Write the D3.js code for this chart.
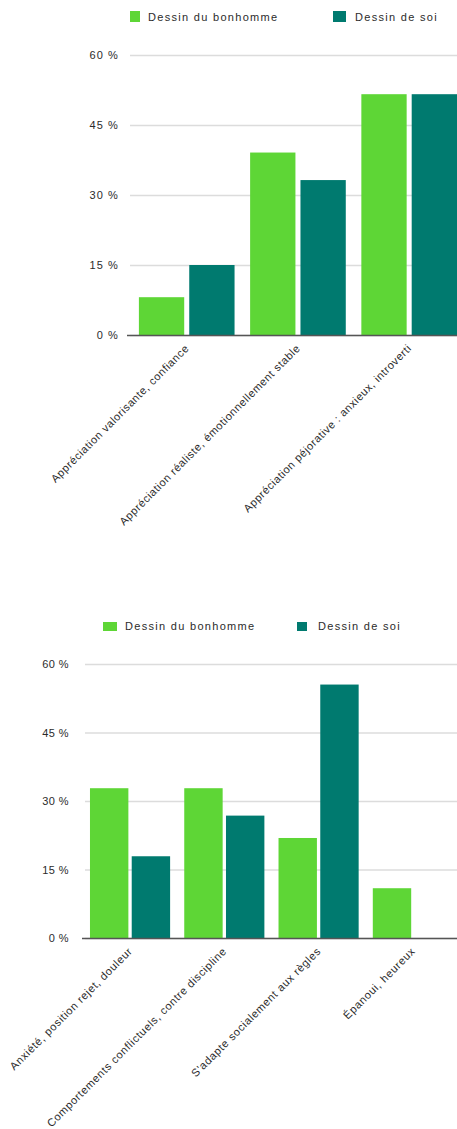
<!DOCTYPE html>
<html>
<head>
<meta charset="utf-8">
<script src="https://cdn.jsdelivr.net/npm/d3@7"></script>
<style>
  body { margin: 0; background: #fff; }
  svg text { font-family: "Liberation Sans", Arial, sans-serif; fill: #2b2b2b; }
</style>
</head>
<body>
<svg id="chart" width="457" height="1129"></svg>
<script>
var seriesNames = ["Dessin du bonhomme", "Dessin de soi"];
var seriesColors = ["#5ed636", "#007a6f"];
var yTicks = [0, 15, 30, 45, 60];

var categories1 = [
  "Appréciation valorisante, confiance",
  "Appréciation réaliste, émotionnellement stable",
  "Appréciation péjorative : anxieux, introverti"
];
var bonhomme1 = [8.1, 39.1, 51.6];
var soi1 = [15.0, 33.2, 51.6];

var categories2 = [
  "Anxiété, position rejet, douleur",
  "Comportements conflictuels, contre discipline",
  "S'adapte socialement aux règles",
  "Épanoui, heureux"
];
var bonhomme2 = [32.8, 32.8, 21.9, 10.9];
var soi2 = [17.9, 26.8, 55.5, 0];

var svg = d3.select("#chart");

function drawChart(opt) {
  var data = opt.categories.map(function(c, i) {
    return { cat: c, values: [opt.s1[i], opt.s2[i]] };
  });

  var x = d3.scaleBand().domain(opt.categories)
    .range([opt.left, opt.right])
    .paddingInner(opt.padIn).paddingOuter(opt.padOut).align(opt.align);
  var xs = d3.scaleBand().domain([0, 1]).range([0, x.bandwidth()]).paddingInner(opt.subPad);
  var y = d3.scaleLinear().domain([0, 60]).range([opt.bottom, opt.top]);

  var g = svg.append("g");

  // grid + y labels
  var yAxis = g.append("g")
    .attr("transform", "translate(" + opt.left + ",0)")
    .call(d3.axisLeft(y).tickValues(yTicks)
      .tickSizeInner(-(opt.right - opt.left)).tickSizeOuter(0)
      .tickPadding(opt.labelGap)
      .tickFormat(function(d) { return d + " %"; }));
  yAxis.select(".domain").remove();
  yAxis.selectAll("line").attr("stroke", "#dcdcdc").attr("stroke-width", 1.5);
  yAxis.selectAll("text").style("font-size", "11px").style("letter-spacing", opt.tickSpacing)
    .attr("fill", "#333");

  // bars
  g.selectAll(".grp")
    .data(data)
    .enter()
    .append("g")
    .attr("transform", function(d) { return "translate(" + x(d.cat) + ",0)"; })
    .selectAll("rect")
    .data(function(d) { return d.values; })
    .enter()
    .append("rect")
    .attr("x", function(d, i) { return xs(i); })
    .attr("y", function(d) { return y(d); })
    .attr("width", xs.bandwidth())
    .attr("height", function(d) { return opt.bottom - y(d); })
    .attr("fill", function(d, i) { return seriesColors[i]; });

  // baseline + category labels
  var xAxis = g.append("g")
    .attr("transform", "translate(0," + opt.bottom + ")")
    .call(d3.axisBottom(x).tickSize(0).tickPadding(0));
  xAxis.select(".domain").remove();
  g.append("line")
    .attr("x1", opt.left - 3).attr("x2", opt.right)
    .attr("y1", opt.bottom + 0.5).attr("y2", opt.bottom + 0.5)
    .attr("stroke", "#555").attr("stroke-width", 1.5);
  xAxis.selectAll("text")
    .style("font-size", "11px")
    .style("letter-spacing", opt.catSpacing)
    .attr("text-anchor", "end")
    .attr("dy", 0)
    .attr("y", 0)
    .attr("transform", "translate(3,14) rotate(-45)");

  // legend
  opt.legend.forEach(function(l, i) {
    g.append("rect")
      .attr("x", l.x).attr("y", l.y)
      .attr("width", l.w).attr("height", l.h)
      .attr("fill", seriesColors[i]);
    g.append("text")
      .attr("x", l.tx).attr("y", l.y + l.h - 1)
      .style("font-size", "11px")
      .style("letter-spacing", "1.3px")
      .text(seriesNames[i]);
  });
}

drawChart({
  categories: categories1, s1: bonhomme1, s2: soi1,
  left: 130, right: 457, top: 55, bottom: 335,
  padIn: 0.14, padOut: 0.04, align: 1, subPad: 0.1,
  labelGap: 11, tickSpacing: "1.1px", catSpacing: "0.55px",
  legend: [
    { x: 130, y: 11, w: 10, h: 11, tx: 148 },
    { x: 333, y: 11, w: 13, h: 11, tx: 355 }
  ]
});

drawChart({
  categories: categories2, s1: bonhomme2, s2: soi2,
  left: 85, right: 457, top: 664, bottom: 938,
  padIn: 0.15, padOut: 0.048, align: 0.55, subPad: 0.08,
  labelGap: 16, tickSpacing: "0.4px", catSpacing: "0.62px",
  legend: [
    { x: 103, y: 622, w: 14, h: 9, tx: 125 },
    { x: 297, y: 622, w: 10, h: 9, tx: 318 }
  ]
});
</script>
</body>
</html>
